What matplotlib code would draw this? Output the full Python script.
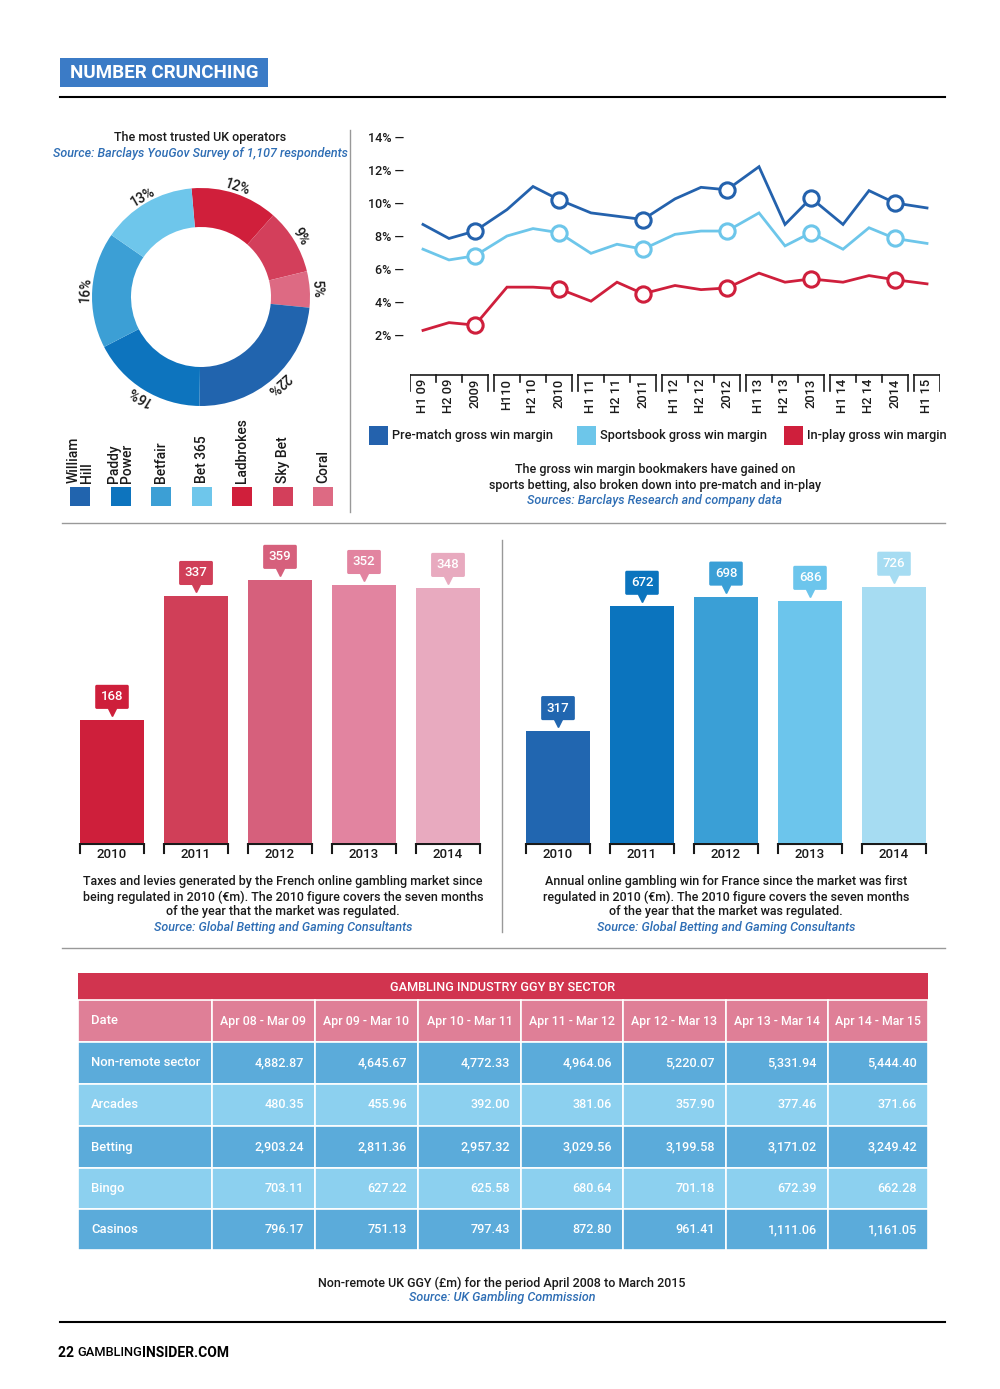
import matplotlib
matplotlib.use('Agg')
import matplotlib.pyplot as plt
from matplotlib.patches import Rectangle
from matplotlib.lines import Line2D
import numpy as np

plt.rcParams['font.family'] = ['Roboto', 'DejaVu Sans']
plt.rcParams['font.weight'] = 500

# ---------------- DATA ----------------
operators = ['William\nHill', 'Paddy\nPower', 'Betfair', 'Bet 365', 'Ladbrokes', 'Sky Bet', 'Coral']
trust_pct = [22, 16, 16, 13, 12, 9, 5]
operator_colors = ['#2164AE', '#0D74BE', '#3C9FD5', '#6EC6EB', '#D01F3B', '#D33F5B', '#DD6A83']
ring_order = [4, 5, 6, 0, 1, 2, 3]  # clockwise from top

periods = ['H1 09', 'H2 09', '2009', 'H110', 'H2 10', '2010', 'H1 11', 'H2 11', '2011',
           'H1 12', 'H2 12', '2012', 'H1 13', 'H2 13', '2013', 'H1 14', 'H2 14', '2014', 'H1 15']
prematch = [8.7, 7.85, 8.3, 9.6, 11.0, 10.2, 9.4, 9.2, 9.0, 10.25, 10.95, 10.8,
            12.2, 8.7, 10.3, 8.7, 10.75, 10.0, 9.7]
sportsbook = [7.2, 6.55, 6.8, 8.0, 8.45, 8.2, 6.95, 7.5, 7.2, 8.1, 8.3, 8.3,
              9.4, 7.4, 8.2, 7.2, 8.5, 7.85, 7.55]
inplay = [2.28, 2.75, 2.6, 4.9, 4.9, 4.8, 4.05, 5.2, 4.5, 5.0, 4.75, 4.85,
          5.75, 5.2, 5.4, 5.2, 5.6, 5.35, 5.1]
series_names = ['Pre-match gross win margin', 'Sportsbook gross win margin', 'In-play gross win margin']
series_colors = ['#2462AD', '#6DC6EA', '#CF1F3C']
yticks_pct = [2, 4, 6, 8, 10, 12, 14]

years = ['2010', '2011', '2012', '2013', '2014']
taxes = [168, 337, 359, 352, 348]
taxes_colors = ['#CE1F3B', '#D03F58', '#D6607C', '#E284A0', '#E8AABF']
gross_win = [317, 672, 698, 686, 726]
win_colors = ['#2166B0', '#0B74BE', '#3A9FD6', '#6CC5EC', '#A6DCF2']

table_cols = ['Apr 08 - Mar 09', 'Apr 09 - Mar 10', 'Apr 10 - Mar 11', 'Apr 11 - Mar 12',
              'Apr 12 - Mar 13', 'Apr 13 - Mar 14', 'Apr 14 - Mar 15']
table_rows = ['Non-remote sector', 'Arcades', 'Betting', 'Bingo', 'Casinos']
non_remote = ['4,882.87', '4,645.67', '4,772.33', '4,964.06', '5,220.07', '5,331.94', '5,444.40']
arcades = ['480.35', '455.96', '392.00', '381.06', '357.90', '377.46', '371.66']
betting = ['2,903.24', '2,811.36', '2,957.32', '3,029.56', '3,199.58', '3,171.02', '3,249.42']
bingo = ['703.11', '627.22', '625.58', '680.64', '701.18', '672.39', '662.28']
casinos = ['796.17', '751.13', '797.43', '872.80', '961.41', '1,111.06', '1,161.05']

# ---------------- LAYOUT HELPERS ----------------
W, H = 1000, 1389
fig = plt.figure(figsize=(W / 100, H / 100), dpi=100)
fig.patch.set_facecolor('white')

BLUE_TXT = '#2D6DB4'
DARK = '#1a1a1a'
FS = 9.0


def px_ax(x0, y0, x1, y1):
    return fig.add_axes([x0 / W, 1 - y1 / H, (x1 - x0) / W, (y1 - y0) / H])


def ftext(x, y, s, **kw):
    return fig.text(x / W, 1 - y / H, s, **kw)


def fline(x0, y0, x1, y1, **kw):
    fig.add_artist(Line2D([x0 / W, x1 / W], [1 - y0 / H, 1 - y1 / H], transform=fig.transFigure, **kw))


def frect(x0, y0, x1, y1, **kw):
    fig.add_artist(Rectangle((x0 / W, 1 - y1 / H), (x1 - x0) / W, (y1 - y0) / H,
                             transform=fig.transFigure, **kw))


def blank(ax):
    ax.set_axis_off()


# ---------------- HEADER ----------------
frect(60, 58, 268, 87, facecolor='#3B7BC6', edgecolor='none')
ftext(164, 73, 'NUMBER CRUNCHING', ha='center', va='center', color='white',
      fontsize=13.5, fontweight='bold')
fline(60, 97, 945, 97, color='black', lw=1.5)

# separators
fline(350, 130, 350, 512, color='#999999', lw=1)
fline(62, 523, 945, 523, color='#999999', lw=1)
fline(502, 540, 502, 932, color='#999999', lw=1)
fline(62, 948, 945, 948, color='#999999', lw=1)
fline(60, 1322, 945, 1322, color='black', lw=1.5)

# ---------------- DONUT ----------------
ftext(200, 138, 'The most trusted UK operators', ha='center', va='center', fontsize=FS, color=DARK)
ftext(200, 154, 'Source: Barclays YouGov Survey of 1,107 respondents', ha='center', va='center',
      fontsize=FS, color=BLUE_TXT, style='italic')

cx, cy, R = 201, 297, 130
axd = px_ax(cx - R, cy - R, cx + R, cy + R)
vals = [trust_pct[i] for i in ring_order]
cols = [operator_colors[i] for i in ring_order]
wedges, _ = axd.pie(vals, colors=cols, startangle=95, counterclock=False, radius=109 / R,
                    wedgeprops=dict(width=39 / R, linewidth=0))
for w, v in zip(wedges, vals):
    th = np.deg2rad((w.theta1 + w.theta2) / 2)
    rr = 116 / R
    axd.text(rr * np.cos(th), rr * np.sin(th), f'{v}%', ha='center', va='center',
             rotation=np.rad2deg(th) - 90, rotation_mode='anchor', fontsize=10, color=DARK)
axd.set_xlim(-1, 1)
axd.set_ylim(-1, 1)
axd.set_aspect('equal')
blank(axd)

# donut legend
for i, (name, c) in enumerate(zip(operators, operator_colors)):
    xc = 80 + 40.5 * i
    frect(xc - 10, 487, xc + 10, 506, facecolor=c, edgecolor='none')
    ftext(xc, 483, name, rotation=90, ha='center', va='bottom', multialignment='left',
          fontsize=10, color=DARK, linespacing=0.92)

# ---------------- LINE CHART ----------------
gap = 6 / 26
xpos = [i + (i // 3) * gap for i in range(len(periods))]
x_px0, step = 423, 26
axl = px_ax(410, 137, 940, 335)
xlim = ((410 - x_px0) / step, (940 - x_px0) / step)
for data, c in zip([prematch, sportsbook, inplay], series_colors):
    axl.plot(xpos, data, color=c, lw=2.0, clip_on=False, zorder=3, solid_joinstyle='miter')
    idx = [i for i, p in enumerate(periods) if not p.startswith('H')]
    axl.plot([xpos[i] for i in idx], [data[i] for i in idx], ls='none', marker='o', ms=11,
             mfc='white', mec=c, mew=2.2, clip_on=False, zorder=4)
axl.set_xlim(*xlim)
axl.set_ylim(2, 14)
axl.set_yticks(yticks_pct)
axl.set_yticklabels([f'{t}% —' for t in yticks_pct], fontsize=FS, color=DARK)
axl.tick_params(axis='y', length=0, pad=4)
axl.set_xticks([])
for s in axl.spines.values():
    s.set_visible(False)
axl.patch.set_alpha(0)

# bracket axis with period labels
axb = px_ax(410, 372, 940, 418)
axb.set_xlim(*xlim)
axb.set_ylim(46, 0)
ngroups = (len(periods) + 2) // 3
for g in range(ngroups):
    members = [i for i in range(len(periods)) if i // 3 == g]
    left = xpos[members[0]] - 0.5
    right = xpos[members[-1]] + 0.5
    axb.plot([left, right], [3, 3], color=DARK, lw=1.2)
    axb.plot([left, left], [3, 19], color=DARK, lw=1.2)
    axb.plot([right, right], [3, 19], color=DARK, lw=1.2)
    for a, b in zip(members[:-1], members[1:]):
        xm = (xpos[a] + xpos[b]) / 2
        axb.plot([xm, xm], [3, 10], color=DARK, lw=1.2)
for x, p in zip(xpos, periods):
    axb.text(x, 7, p, rotation=90, ha='center', va='top', fontsize=9.3, color=DARK)
blank(axb)

# line legend
for x0, name, c in zip([369, 577, 784], series_names, series_colors):
    frect(x0, 426, x0 + 19, 445, facecolor=c, edgecolor='none')
    ftext(x0 + 23, 436, name, ha='left', va='center', fontsize=9.2, color=DARK)

ftext(655, 470, 'The gross win margin bookmakers have gained on', ha='center', va='center',
      fontsize=FS, color=DARK)
ftext(655, 485, 'sports betting, also broken down into pre-match and in-play', ha='center',
      va='center', fontsize=FS, color=DARK)
ftext(655, 500, 'Sources: Barclays Research and company data', ha='center', va='center',
      fontsize=FS, color=BLUE_TXT, style='italic')


# ---------------- BAR CHARTS ----------------
def bar_chart(x0, x1, vals, colors, px_per_unit, caption, cap_x):
    top, base = 540, 843
    ax = px_ax(x0, top, x1, base)
    xs = np.arange(len(vals))
    bw = 64 / 84
    ax.bar(xs, vals, width=bw, color=colors, linewidth=0)
    ax.set_xlim(-0.5, len(vals) - 0.5)
    ax.set_ylim(0, (base - top) / px_per_unit)
    for x, v, c in zip(xs, vals, colors):
        ax.annotate(str(v), (x, v), xytext=(0, 23), textcoords='offset pixels', ha='center',
                    va='center', color='white', fontsize=9.5,
                    bbox=dict(boxstyle='round,pad=0.42,rounding_size=0.12', fc=c, ec='none'))
        ax.plot([x], [v], marker='v', ms=6, color=c, ls='none', clip_on=False,
                transform=ax.transData + matplotlib.transforms.ScaledTranslation(0, 8 / 100, fig.dpi_scale_trans))
    blank(ax)
    # year brackets
    axy = px_ax(x0, base, x1, base + 24)
    axy.set_xlim(-0.5, len(vals) - 0.5)
    axy.set_ylim(24, 0)
    for x, y in zip(xs, years):
        axy.plot([x - bw / 2, x + bw / 2], [0.7, 0.7], color=DARK, lw=1.5)
        axy.plot([x - bw / 2, x - bw / 2], [0.7, 10], color=DARK, lw=1.5)
        axy.plot([x + bw / 2, x + bw / 2], [0.7, 10], color=DARK, lw=1.5)
        axy.text(x, 12, y, ha='center', va='center', fontsize=9.5, color=DARK)
    blank(axy)
    for k, line in enumerate(caption[:-1]):
        ftext(cap_x, 882 + 15 * k, line, ha='center', va='center', fontsize=FS, color=DARK)
    ftext(cap_x, 882 + 15 * (len(caption) - 1), caption[-1], ha='center', va='center',
          fontsize=FS, color=BLUE_TXT, style='italic')


bar_chart(70, 490, taxes, taxes_colors, 0.733,
          ['Taxes and levies generated by the French online gambling market since',
           'being regulated in 2010 (€m). The 2010 figure covers the seven months',
           'of the year that the market was regulated.',
           'Source: Global Betting and Gaming Consultants'], 283)
bar_chart(516, 936, gross_win, win_colors, 0.353,
          ['Annual online gambling win for France since the market was first',
           'regulated in 2010 (€m). The 2010 figure covers the seven months',
           'of the year that the market was regulated.',
           'Source: Global Betting and Gaming Consultants'], 726)

# ---------------- TABLE ----------------
col_edges = [78, 212, 315, 418, 521, 623, 726, 828, 928]
row_edges = [973, 1000, 1042, 1084, 1126, 1168, 1209, 1250]
axt = px_ax(col_edges[0], row_edges[0], col_edges[-1], row_edges[-1])
axt.set_xlim(col_edges[0], col_edges[-1])
axt.set_ylim(row_edges[-1], row_edges[0])
blank(axt)
TITLE_C, HEAD_C, DARK_ROW, LIGHT_ROW = '#D1344F', '#DF7F97', '#5BABDA', '#8CD0EF'
axt.add_patch(Rectangle((col_edges[0], row_edges[0]), col_edges[-1] - col_edges[0],
                        row_edges[1] - row_edges[0], fc=TITLE_C, ec='none'))
axt.text((col_edges[0] + col_edges[-1]) / 2, (row_edges[0] + row_edges[1]) / 2 + 1,
         'GAMBLING INDUSTRY GGY BY SECTOR', ha='center', va='center', color='white', fontsize=9.2)
rows_data = [non_remote, arcades, betting, bingo, casinos]
header = ['Date'] + table_cols
all_rows = [header] + [[n] + d for n, d in zip(table_rows, rows_data)]
for r, row in enumerate(all_rows):
    y0, y1 = row_edges[r + 1], row_edges[r + 2]
    fc = HEAD_C if r == 0 else (DARK_ROW if r % 2 == 1 else LIGHT_ROW)
    for c, val in enumerate(row):
        xa, xb = col_edges[c], col_edges[c + 1]
        axt.add_patch(Rectangle((xa, y0), xb - xa, y1 - y0, fc=fc, ec='white', lw=1.2))
        ym = (y0 + y1) / 2
        if c == 0:
            axt.text(xa + 13, ym, val, ha='left', va='center', color='white', fontsize=9.4)
        elif r == 0:
            axt.text((xa + xb) / 2, ym, val, ha='center', va='center', color='white', fontsize=8.9)
        else:
            axt.text(xb - 11, ym, val, ha='right', va='center', color='white', fontsize=9.1)

ftext(502, 1283, 'Non-remote UK GGY (£m) for the period April 2008 to March 2015', ha='center',
      va='center', fontsize=FS, color=DARK)
ftext(502, 1298, 'Source: UK Gambling Commission', ha='center', va='center', fontsize=FS,
      color=BLUE_TXT, style='italic')

# ---------------- FOOTER ----------------
t1 = ftext(58, 1353, '22 ', ha='left', va='center', fontsize=10, fontweight='bold', color='black')
a1 = plt.annotate('GAMBLING', xy=(1, 0.5), xycoords=t1, ha='left', va='center', fontsize=9.3,
                  color='black', annotation_clip=False)
a2 = plt.annotate('INSIDER.COM', xy=(1, 0.5), xycoords=a1, ha='left', va='center', fontsize=10,
                  fontweight='bold', color='black', annotation_clip=False)

fig.savefig('out.png', dpi=100)
